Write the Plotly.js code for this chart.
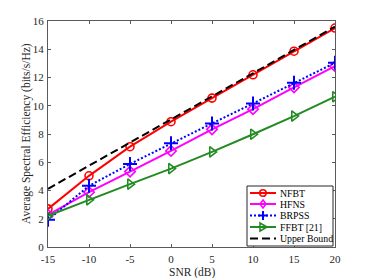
<!DOCTYPE html>
<html><head><meta charset="utf-8">
<script src="https://cdn.plot.ly/plotly-3.0.1.min.js"></script>
<style>html,body{margin:0;padding:0;background:#fff;}#chart{width:371px;height:278px;}</style>
</head><body><div id="chart"></div>
<script>
const snr = [-15, -10, -5, 0, 5, 10, 15, 20];
const nfbt = [2.7, 5.04, 7.1, 8.87, 10.54, 12.19, 13.86, 15.5];
const hfns = [2.28, 3.88, 5.34, 6.8, 8.33, 9.76, 11.3, 12.8];
const brpss = [1.93, 4.33, 5.88, 7.34, 8.75, 10.16, 11.62, 13.04];
const ffbt = [2.2, 3.34, 4.45, 5.55, 6.73, 7.98, 9.27, 10.64];
const upper = [4.12, 5.75, 7.35, 9.0, 10.66, 12.3, 13.95, 15.6];
const xTicks = [-15, -10, -5, 0, 5, 10, 15, 20];
const yTicks = [0, 2, 4, 6, 8, 10, 12, 14, 16];
const seriesNames = ['NFBT', 'HFNS', 'BRPSS', 'FFBT [21]', 'Upper Bound'];
const xTitle = 'SNR (dB)';
const yTitle = 'Average Spectral Efficiency (bits/s/Hz)';

const W = 371, H = 278, M = {l: 48, r: 36, t: 21, b: 31};
const PW = W - M.l - M.r, PH = H - M.t - M.b;
const px = v => (v - M.l) / PW;          // pixel x -> paper x
const py = v => (H - M.b - v) / PH;      // pixel y -> paper y

const DOT = '2px,2px', DASH = '8px,4px';
const styles = [
  {color: '#ff0000', dash: 'solid', marker: 'circle'},
  {color: '#ff00ff', dash: 'solid', marker: 'diamond'},
  {color: '#0000ff', dash: DOT, marker: 'plus'},
  {color: '#228b22', dash: 'solid', marker: 'triright'},
  {color: '#000000', dash: DASH, marker: null}
];

const traces = [
  {x: snr, y: nfbt, name: seriesNames[0], mode: 'lines+markers',
   line: {color: styles[0].color, width: 2}, marker: {symbol: 'circle-open', size: 8, color: styles[0].color, line: {width: 1.6}}},
  {x: snr, y: hfns, name: seriesNames[1], mode: 'lines+markers',
   line: {color: styles[1].color, width: 2}, marker: {symbol: 'diamond-open', size: 8, color: styles[1].color, line: {width: 1.6}}},
  {x: snr, y: brpss, name: seriesNames[2], mode: 'lines+markers',
   line: {color: styles[2].color, width: 2, dash: DOT}, marker: {symbol: 'cross-thin-open', size: 10, color: styles[2].color, line: {width: 2, color: styles[2].color}}},
  {x: snr, y: ffbt, name: seriesNames[3], mode: 'lines+markers',
   line: {color: styles[3].color, width: 2}, marker: {symbol: 'triangle-right-open', size: 9, color: styles[3].color, line: {width: 1.6}}},
  {x: snr, y: upper, name: seriesNames[4], mode: 'lines',
   line: {color: styles[4].color, width: 2, dash: DASH}}
];

const fam = '"Liberation Serif", "Times New Roman", serif';
const txtCol = '#262626';
const axCol = '#5a5a5a';

// Compact MATLAB-style legend built from layout shapes/annotations
const shapes = [];
const annotations = [];
const box = {x0: 247, x1: 333, y0: 186, y1: 246};
shapes.push({type: 'rect', xref: 'paper', yref: 'paper', x0: px(box.x0), x1: px(box.x1), y0: py(box.y1), y1: py(box.y0),
  fillcolor: '#ffffff', line: {color: '#262626', width: 1}, layer: 'above'});
const rowY = [193, 204, 215.5, 227, 238.5];
const lx0 = 250, lx1 = 276, mx = 263, tx = 278;
seriesNames.forEach((name, i) => {
  const s = styles[i], y = rowY[i];
  shapes.push({type: 'line', xref: 'paper', yref: 'paper', x0: px(lx0), x1: px(lx1), y0: py(y), y1: py(y),
    line: {color: s.color, width: 2, dash: s.dash}, layer: 'above'});
  const r = 3.3;
  if (s.marker === 'circle') {
    shapes.push({type: 'circle', xref: 'paper', yref: 'paper', x0: px(mx - r), x1: px(mx + r), y0: py(y + r), y1: py(y - r),
      fillcolor: 'rgba(0,0,0,0)', line: {color: s.color, width: 1.6}, layer: 'above'});
  } else if (s.marker === 'diamond') {
    const d = `M${px(mx)},${py(y - 4)} L${px(mx + 3)},${py(y)} L${px(mx)},${py(y + 4)} L${px(mx - 3)},${py(y)} Z`;
    shapes.push({type: 'path', xref: 'paper', yref: 'paper', path: d, fillcolor: 'rgba(0,0,0,0)', line: {color: s.color, width: 1.6}, layer: 'above'});
  } else if (s.marker === 'plus') {
    const d = `M${px(mx - 4.5)},${py(y)} L${px(mx + 4.5)},${py(y)} M${px(mx)},${py(y - 4.5)} L${px(mx)},${py(y + 4.5)}`;
    shapes.push({type: 'path', xref: 'paper', yref: 'paper', path: d, line: {color: s.color, width: 2}, layer: 'above'});
  } else if (s.marker === 'triright') {
    const d = `M${px(mx - 3)},${py(y - 4)} L${px(mx + 4)},${py(y)} L${px(mx - 3)},${py(y + 4)} Z`;
    shapes.push({type: 'path', xref: 'paper', yref: 'paper', path: d, fillcolor: 'rgba(0,0,0,0)', line: {color: s.color, width: 1.6}, layer: 'above'});
  }
  annotations.push({xref: 'paper', yref: 'paper', x: px(tx), y: py(y), xanchor: 'left', yanchor: 'middle',
    text: name, showarrow: false, font: {family: fam, size: 9.8, color: '#000'}});
});

// Axis titles placed like the MATLAB figure
annotations.push({xref: 'paper', yref: 'paper', x: px(M.l + PW / 2), y: py(272.5), xanchor: 'center', yanchor: 'middle',
  text: xTitle, showarrow: false, font: {family: fam, size: 11.5, color: txtCol}});
annotations.push({xref: 'paper', yref: 'paper', x: px(26), y: py(M.t + PH / 2), xanchor: 'center', yanchor: 'middle',
  text: yTitle, textangle: -90, showarrow: false, font: {family: fam, size: 11.5, color: txtCol}});

const layout = {
  width: W, height: H,
  margin: M,
  paper_bgcolor: '#fff', plot_bgcolor: '#fff',
  font: {family: fam, size: 11, color: txtCol},
  showlegend: false,
  xaxis: {range: [-15, 20], tickvals: xTicks, ticktext: xTicks.map(String),
    ticks: 'inside', ticklen: 3, tickcolor: axCol, showline: true, linecolor: axCol, linewidth: 1,
    mirror: 'ticks', showgrid: false, zeroline: false, ticklabelstandoff: 2,
    tickfont: {size: 11, family: fam, color: txtCol}},
  yaxis: {range: [0, 16], tickvals: yTicks, ticktext: yTicks.map(String),
    ticks: 'inside', ticklen: 3, tickcolor: axCol, showline: true, linecolor: axCol, linewidth: 1,
    mirror: 'ticks', showgrid: false, zeroline: false, ticklabelstandoff: 1,
    tickfont: {size: 11, family: fam, color: txtCol}},
  shapes: shapes,
  annotations: annotations
};
Plotly.newPlot('chart', traces, layout, {staticPlot: true, displayModeBar: false});
</script></body></html>
